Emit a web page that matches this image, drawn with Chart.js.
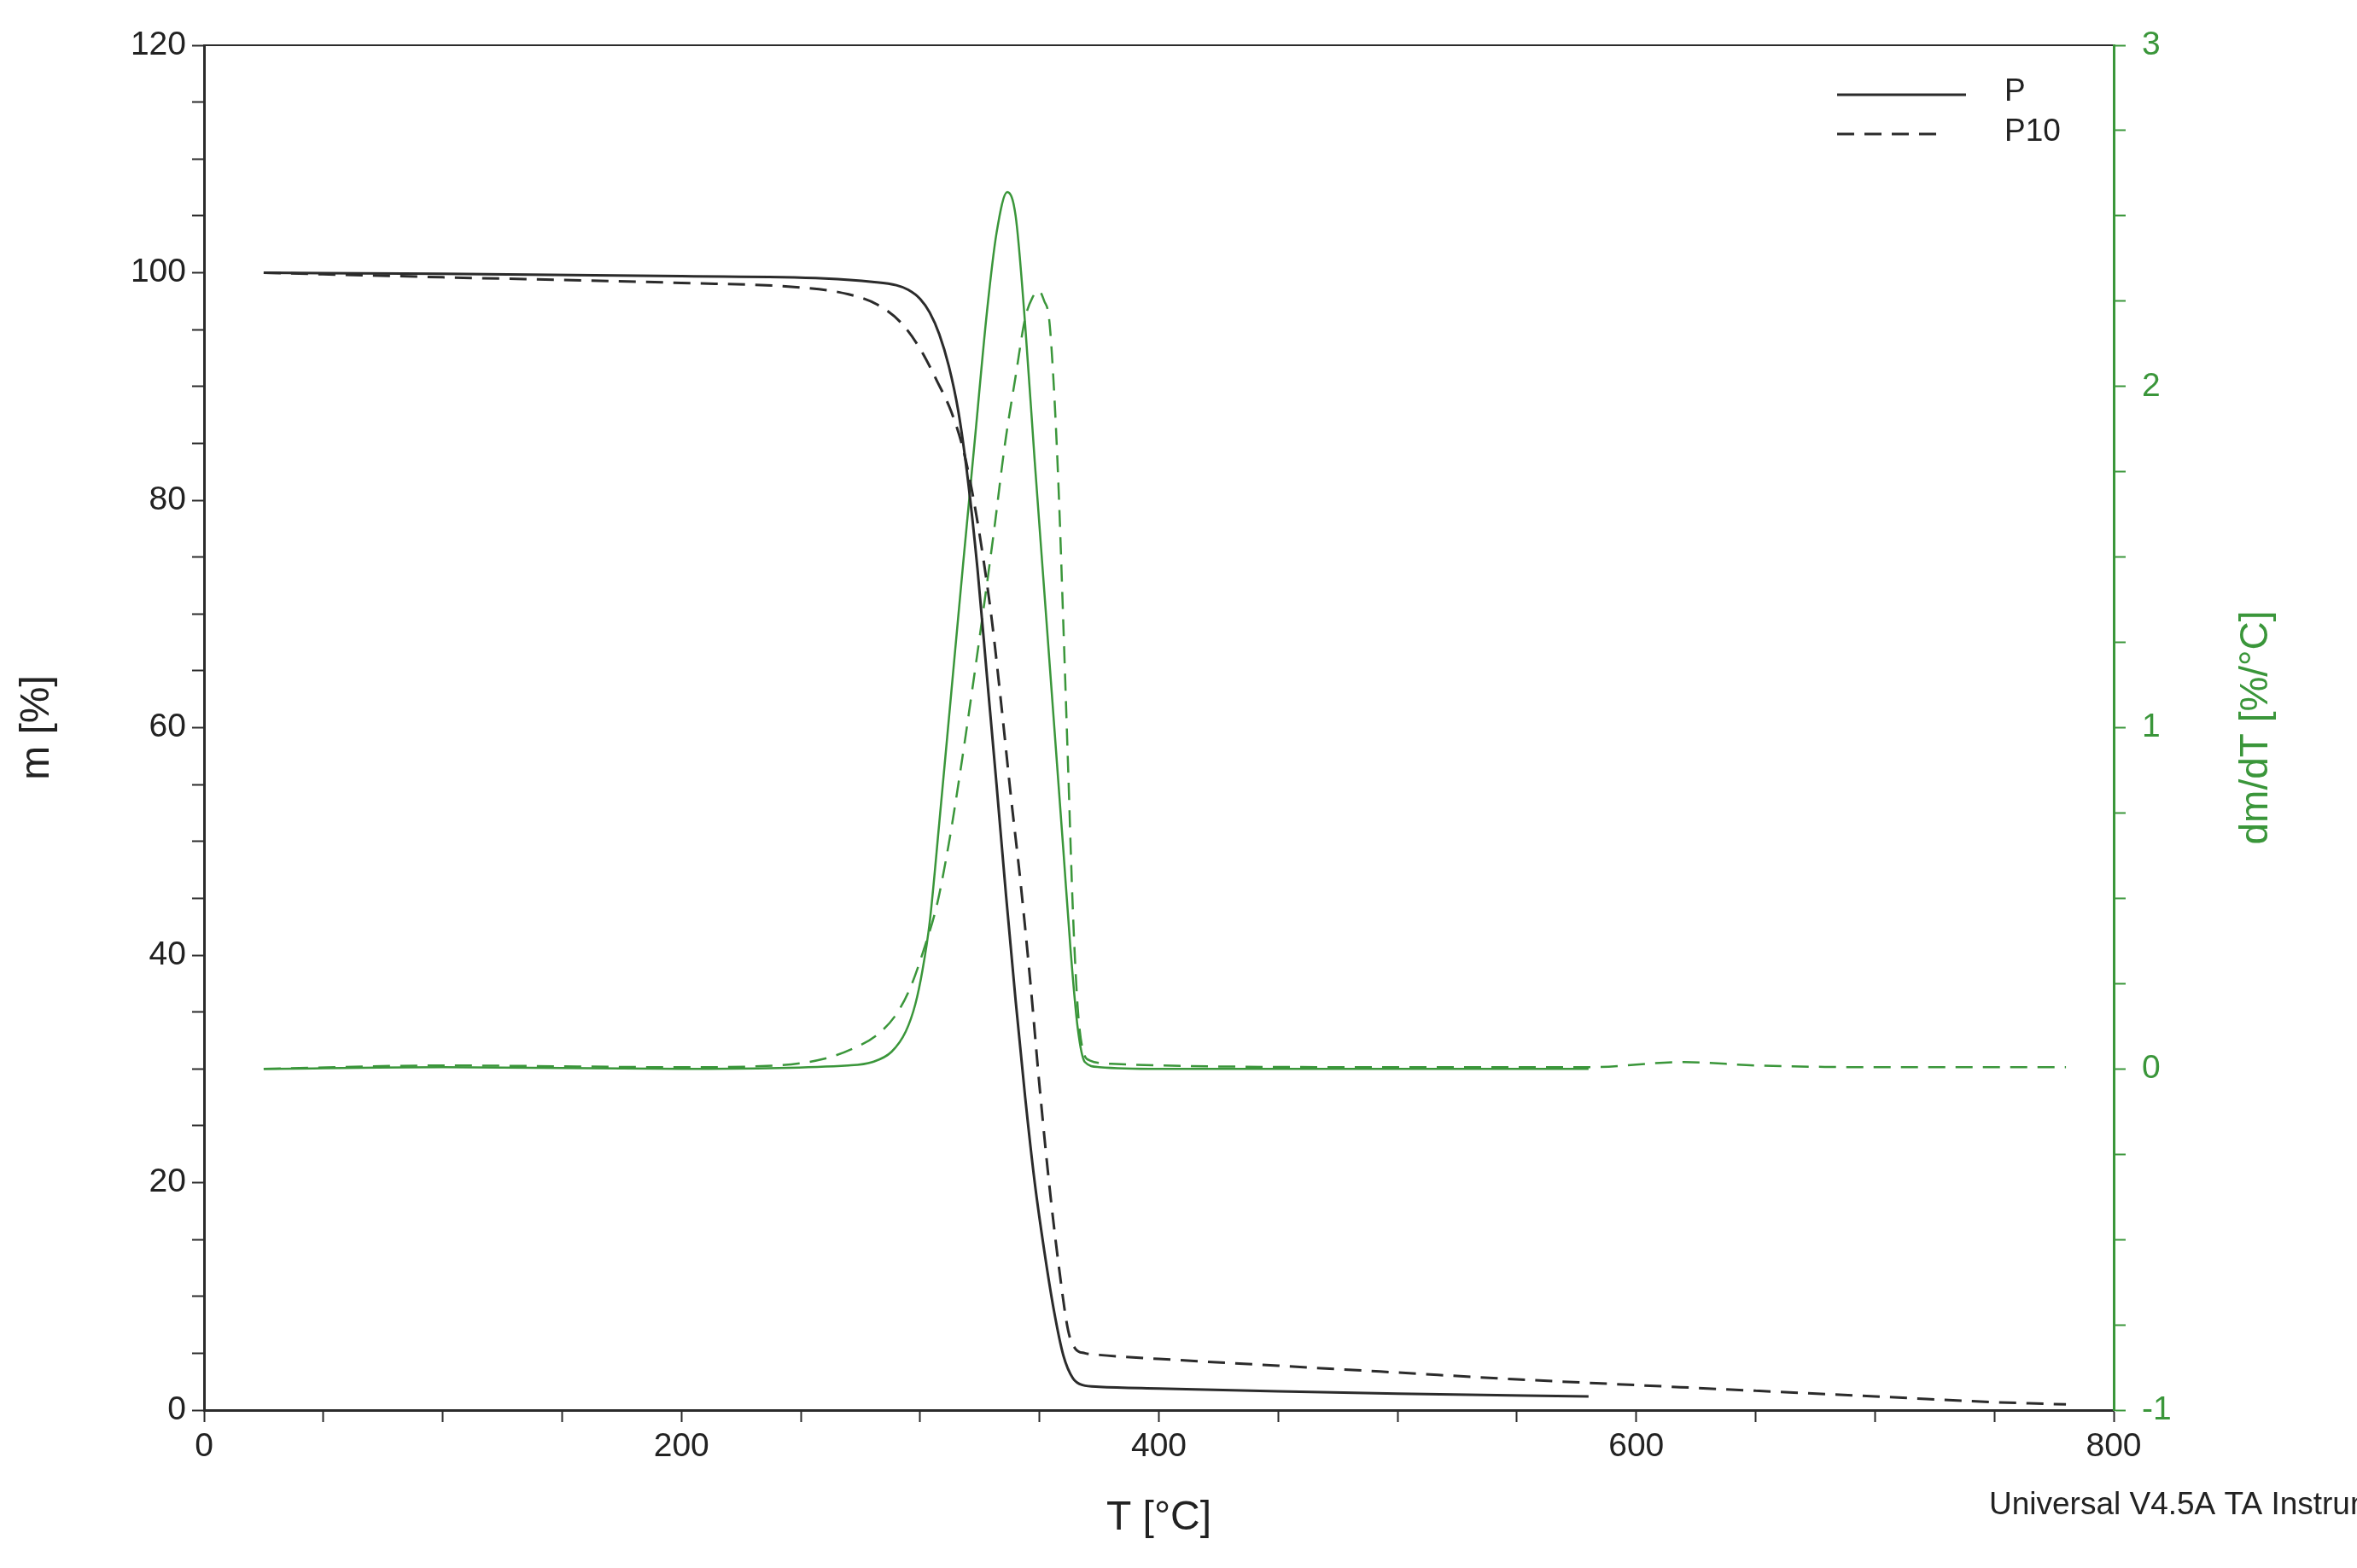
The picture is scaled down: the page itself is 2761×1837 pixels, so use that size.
<!DOCTYPE html>
<html>
<head>
<meta charset="utf-8">
<script src="https://cdn.jsdelivr.net/npm/chart.js@4.4.1/dist/chart.umd.min.js"></script>
<style>
  html, body { margin: 0; padding: 0; background: #fff; }
  canvas { display: block; }
</style>
</head>
<body>
<canvas id="tga" width="2761" height="1837"></canvas>
<script>
// mass curves, T in °C, m in %
const tempP = [25, 100, 200, 260, 280, 290, 295, 300, 304, 308, 312, 316, 320, 324, 328, 332, 336, 340, 344, 348, 352, 356, 360, 364, 368, 375, 400, 450, 500, 580];
const massP = [100, 99.9, 99.7, 99.5, 99.2, 98.9, 98.5, 97.7, 96.5, 94.6, 91.8, 87.8, 81.8, 74, 64.5, 55, 45.2, 36, 27.5, 20, 14, 8.8, 4.8, 2.8, 2.2, 2.05, 1.9, 1.65, 1.45, 1.2];

const tempP10 = [25, 100, 200, 250, 270, 282, 292, 300, 307, 313, 318, 322, 326, 330, 334, 338, 342, 346, 350, 354, 358, 362, 365, 369, 375, 400, 450, 500, 550, 600, 650, 700, 750, 780];
const massP10 = [100, 99.6, 99.1, 98.7, 98.1, 97.2, 95.6, 93.3, 90.5, 87.8, 84.5, 80.5, 75.5, 69.5, 62, 54, 46.5, 38, 28.5, 20, 12.8, 7, 5.4, 5.0, 4.85, 4.5, 3.9, 3.3, 2.7, 2.2, 1.7, 1.2, 0.7, 0.5];

// derivative curves, dm/dT in %/°C
const tempDP = [25, 100, 200, 270, 280, 288, 294, 298, 301, 304, 308, 313, 318, 323, 328, 332, 336.5, 340, 344, 348, 352, 356, 360, 363, 366, 369, 375, 400, 500, 580];
const derivP = [0, 0.005, 0, 0.01, 0.02, 0.05, 0.11, 0.19, 0.29, 0.43, 0.72, 1.1, 1.48, 1.85, 2.22, 2.45, 2.57, 2.5, 2.18, 1.78, 1.4, 1.02, 0.64, 0.35, 0.12, 0.02, 0.005, 0, 0, 0];

const tempDP10 = [25, 100, 200, 240, 260, 272, 282, 290, 296, 302, 307, 312, 317, 322, 326, 331, 335.5, 340, 344, 347, 349.7, 352, 354, 356, 358, 360, 362, 364, 366, 368, 371, 380, 400, 500, 580, 620, 650, 700, 780];
const derivP10 = [0, 0.01, 0.005, 0.01, 0.03, 0.06, 0.1, 0.16, 0.24, 0.36, 0.48, 0.66, 0.88, 1.12, 1.32, 1.58, 1.83, 2.03, 2.2, 2.26, 2.28, 2.25, 2.2, 2.0, 1.7, 1.3, 0.88, 0.46, 0.18, 0.06, 0.025, 0.015, 0.01, 0.005, 0.005, 0.02, 0.01, 0.005, 0.005];

const seriesNames = ["P", "P10"];
const xTicks = [0, 200, 400, 600, 800];
const massTicks = [0, 20, 40, 60, 80, 100, 120];
const derivTicks = [-1, 0, 1, 2, 3];

const INK = "#2b2b2b";
const GREEN = "#3a963a";
const DASH = [20, 12];
const FONT = "'Liberation Sans', Arial, sans-serif";

Chart.defaults.font.family = FONT;

function pts(xs, ys) {
  return xs.map((x, i) => ({ x: x, y: ys[i] }));
}

function onTick(list) {
  return (v) => (list.some((t) => Math.abs(t - v) < 1e-6) ? String(Math.round(v)) : "");
}

// legend, right-hand title (reads bottom to top) and instrument footer
const extras = {
  id: "extras",
  afterDraw(chart) {
    const ctx = chart.ctx;
    const area = chart.chartArea;
    ctx.save();

    ctx.strokeStyle = INK;
    ctx.lineWidth = 3;
    ctx.beginPath();
    ctx.moveTo(2152, 111);
    ctx.lineTo(2303, 111);
    ctx.stroke();
    ctx.setLineDash(DASH);
    ctx.beginPath();
    ctx.moveTo(2152, 157);
    ctx.lineTo(2276, 157);
    ctx.stroke();
    ctx.setLineDash([]);

    ctx.fillStyle = "#222";
    ctx.font = "37px " + FONT;
    ctx.textBaseline = "middle";
    ctx.textAlign = "left";
    ctx.fillText(seriesNames[0], 2348, 108);
    ctx.fillText(seriesNames[1], 2348, 155);

    ctx.font = "37px " + FONT;
    ctx.fillText("Universal V4.5A TA Instruments", 2330, 1764);

    ctx.translate(2643, (area.top + area.bottom) / 2);
    ctx.rotate(-Math.PI / 2);
    ctx.textAlign = "center";
    ctx.fillStyle = GREEN;
    ctx.font = "46px " + FONT;
    ctx.fillText("dm/dT [%/°C]", 0, 0);
    ctx.restore();
  },
};

new Chart(document.getElementById("tga"), {
  type: "line",
  data: {
    datasets: [
      {
        label: seriesNames[0],
        data: pts(tempP, massP),
        yAxisID: "y",
        borderColor: INK,
        borderWidth: 3,
      },
      {
        label: seriesNames[1],
        data: pts(tempP10, massP10),
        yAxisID: "y",
        borderColor: INK,
        borderWidth: 3,
        borderDash: DASH,
      },
      {
        label: seriesNames[0] + " dm/dT",
        data: pts(tempDP, derivP),
        yAxisID: "y1",
        borderColor: GREEN,
        borderWidth: 2.5,
      },
      {
        label: seriesNames[1] + " dm/dT",
        data: pts(tempDP10, derivP10),
        yAxisID: "y1",
        borderColor: GREEN,
        borderWidth: 2.5,
        borderDash: DASH,
      },
    ],
  },
  options: {
    responsive: false,
    devicePixelRatio: 1,
    animation: false,
    layout: { padding: 0 },
    elements: {
      point: { radius: 0 },
      line: { cubicInterpolationMode: "monotone", fill: false },
    },
    plugins: {
      legend: { display: false },
      tooltip: { enabled: false },
    },
    scales: {
      x: {
        type: "linear",
        position: "bottom",
        min: 0,
        max: 800,
        afterFit: (s) => { s.height = 185; },
        border: { color: INK, width: 3 },
        grid: { drawOnChartArea: false, tickLength: 14, tickWidth: 2, tickColor: INK },
        ticks: {
          stepSize: 50,
          autoSkip: false,
          maxRotation: 0,
          padding: 6,
          color: "#222",
          font: { size: 39 },
          callback: onTick(xTicks),
        },
        title: {
          display: true,
          text: "T [°C]",
          color: "#222",
          font: { size: 48 },
          padding: { top: 29, bottom: 29 },
        },
      },
      xTop: {
        type: "linear",
        position: "top",
        min: 0,
        max: 800,
        afterFit: (s) => { s.height = 53; },
        border: { color: INK, width: 2 },
        grid: { drawOnChartArea: false, drawTicks: false },
        ticks: { display: false },
      },
      y: {
        position: "left",
        min: 0,
        max: 120,
        afterFit: (s) => { s.width = 239; },
        border: { color: INK, width: 3 },
        grid: { drawOnChartArea: false, tickLength: 14, tickWidth: 2, tickColor: INK },
        ticks: {
          stepSize: 5,
          autoSkip: false,
          padding: 7,
          color: "#222",
          font: { size: 39 },
          callback: onTick(massTicks),
        },
        title: {
          display: true,
          text: "m [%]",
          color: "#222",
          font: { size: 48 },
          padding: { top: 15, bottom: 15 },
        },
      },
      y1: {
        position: "right",
        min: -1,
        max: 3,
        afterFit: (s) => { s.width = 285; },
        border: { color: GREEN, width: 3 },
        grid: { drawOnChartArea: false, tickLength: 14, tickWidth: 2, tickColor: GREEN },
        ticks: {
          stepSize: 0.25,
          autoSkip: false,
          padding: 19,
          color: GREEN,
          font: { size: 39 },
          callback: onTick(derivTicks),
        },
      },
    },
  },
  plugins: [extras],
});
</script>
</body>
</html>
